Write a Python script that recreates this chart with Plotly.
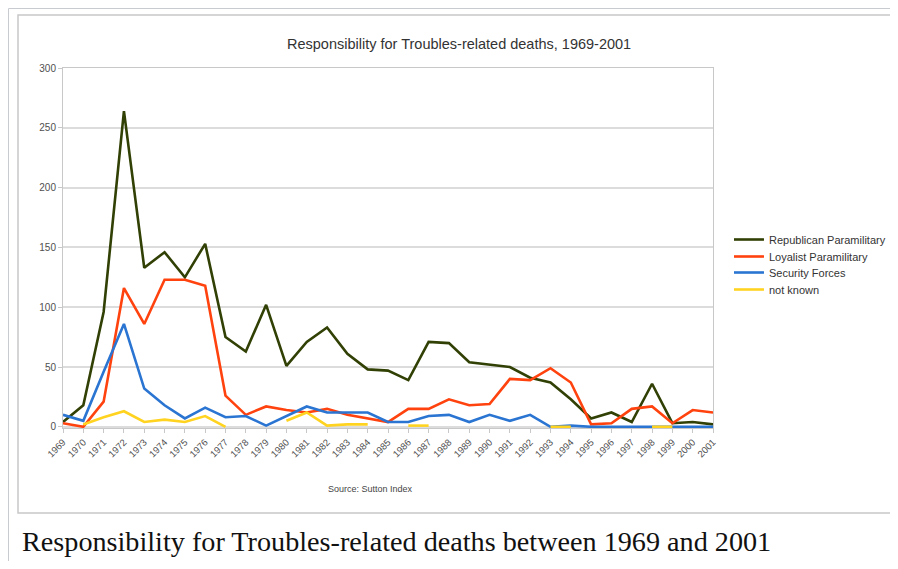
import plotly.graph_objects as go

years = ["1969", "1970", "1971", "1972", "1973", "1974", "1975", "1976", "1977", "1978",
         "1979", "1980", "1981", "1982", "1983", "1984", "1985", "1986", "1987", "1988",
         "1989", "1990", "1991", "1992", "1993", "1994", "1995", "1996", "1997", "1998",
         "1999", "2000", "2001"]

republican = [4, 18, 96, 264, 133, 146, 125, 153, 75, 63, 102, 51, 71, 83, 61, 48, 47,
              39, 71, 70, 54, 52, 50, 41, 37, 23, 7, 12, 4, 36, 3, 4, 2]
loyalist = [3, 0, 21, 116, 86, 123, 123, 118, 26, 10, 17, 14, 12, 15, 10, 7, 4,
            15, 15, 23, 18, 19, 40, 39, 49, 37, 2, 3, 15, 17, 3, 14, 12]
security = [10, 5, 46, 86, 32, 18, 7, 16, 8, 9, 1, 9, 17, 12, 12, 12, 4,
            4, 9, 10, 4, 10, 5, 10, 0, 1, 0, 0, 0, 0, 0, 0, 0]
not_known = [None, 2, 8, 13, 4, 6, 4, 9, 0, None, None, 5, 12, 1, 2, 2, None,
             1, 1, None, None, None, None, None, 0, 0, None, None, None, 0, 0, None, None]

series_names = ["Republican Paramilitary", "Loyalist Paramilitary", "Security Forces", "not known"]
series_values = [republican, loyalist, security, not_known]
series_colors = ["#314004", "#ff420e", "#2a74d2", "#ffd320"]
legend_ids = ["legend", "legend2", "legend3", "legend4"]
legend_centers = [240, 257, 273, 290]  # screen px

title_text = "Responsibility for Troubles-related deaths, 1969-2001"
source_text = "Source: Sutton Index"
caption_text = "Responsibility for Troubles-related deaths between 1969 and 2001"

OFF = 8  # page body margin
W, H = 898 - 2 * OFF, 569 - 2 * OFF
# plot area in screen pixels
SL, SR, ST, SB = 63, 713, 68, 428
L, R, T, B = SL - OFF, SR - OFF, ST - OFF, SB - OFF


def px(x):
    return (x - SL) / (SR - SL)


def py(y):
    return (SB - y) / (SB - ST)


def cx(x):
    return (x - OFF) / W


def cy(y):
    return 1 - (y - OFF) / H


fig = go.Figure()
for name, vals, col, lid in zip(series_names, series_values, series_colors, legend_ids):
    fig.add_trace(go.Scatter(x=years, y=vals, mode="lines", name=name, legend=lid,
                             line=dict(color=col, width=2.6), connectgaps=False))

axis_font = dict(family="Liberation Sans, Arial, sans-serif", size=9.5, color="#505050")
leg_font = dict(family="Liberation Sans, Arial, sans-serif", size=11, color="#333333")

layout_legends = {}
for lid, c in zip(legend_ids, legend_centers):
    layout_legends[lid] = dict(xref="container", yref="container",
                               x=cx(729), y=cy(c - 15), xanchor="left", yanchor="top",
                               font=leg_font, itemwidth=30, bgcolor="rgba(0,0,0,0)")

fig.update_layout(
    width=W, height=H,
    margin=dict(l=L, r=W - R, t=T, b=H - B, pad=0, autoexpand=False),
    paper_bgcolor="white", plot_bgcolor="white",
    font=dict(family="Liberation Sans, Arial, sans-serif", color="#333333"),
    showlegend=True,
    xaxis=dict(type="category", range=[0, len(years) - 1], tickangle=-45,
               tickfont=axis_font, showgrid=False, showline=True, linecolor="#c8c8c8",
               linewidth=1, mirror=True, ticks="outside", ticklen=4, tickcolor="#c8c8c8",
               zeroline=False),
    yaxis=dict(range=[-1, 300], tickvals=[0, 50, 100, 150, 200, 250, 300],
               tickfont=dict(family="Liberation Sans, Arial, sans-serif", size=10, color="#505050"),
               showgrid=True, gridcolor="#dcdcdc", gridwidth=1.8, showline=True,
               linecolor="#c8c8c8", linewidth=1, mirror=True, ticks="outside", ticklen=4,
               tickcolor="#c8c8c8", zeroline=False),
    shapes=[
        dict(type="rect", xref="paper", yref="paper", x0=px(8.5), y0=py(8.5), x1=px(930), y1=py(600),
             line=dict(color="#c8ccd1", width=1), layer="below"),
        dict(type="rect", xref="paper", yref="paper", x0=px(18), y0=py(15), x1=px(930), y1=py(513),
             line=dict(color="#c8c8c8", width=1.5), layer="below"),
    ],
    annotations=[
        dict(text=title_text, xref="paper", yref="paper", x=px(459), y=py(44),
             xanchor="center", yanchor="middle", showarrow=False,
             font=dict(family="Liberation Sans, Arial, sans-serif", size=14.5, color="#333333")),
        dict(text=source_text, xref="paper", yref="paper", x=px(370), y=py(489),
             xanchor="center", yanchor="middle", showarrow=False,
             font=dict(family="Liberation Sans, Arial, sans-serif", size=9, color="#444444")),
        dict(text=caption_text, xref="paper", yref="paper", x=px(20), y=py(541),
             xanchor="left", yanchor="middle", showarrow=False,
             font=dict(family="Liberation Serif, Times New Roman, serif", size=28.2, color="#111111")),
    ],
    **layout_legends,
)

fig.write_html("out.html")
